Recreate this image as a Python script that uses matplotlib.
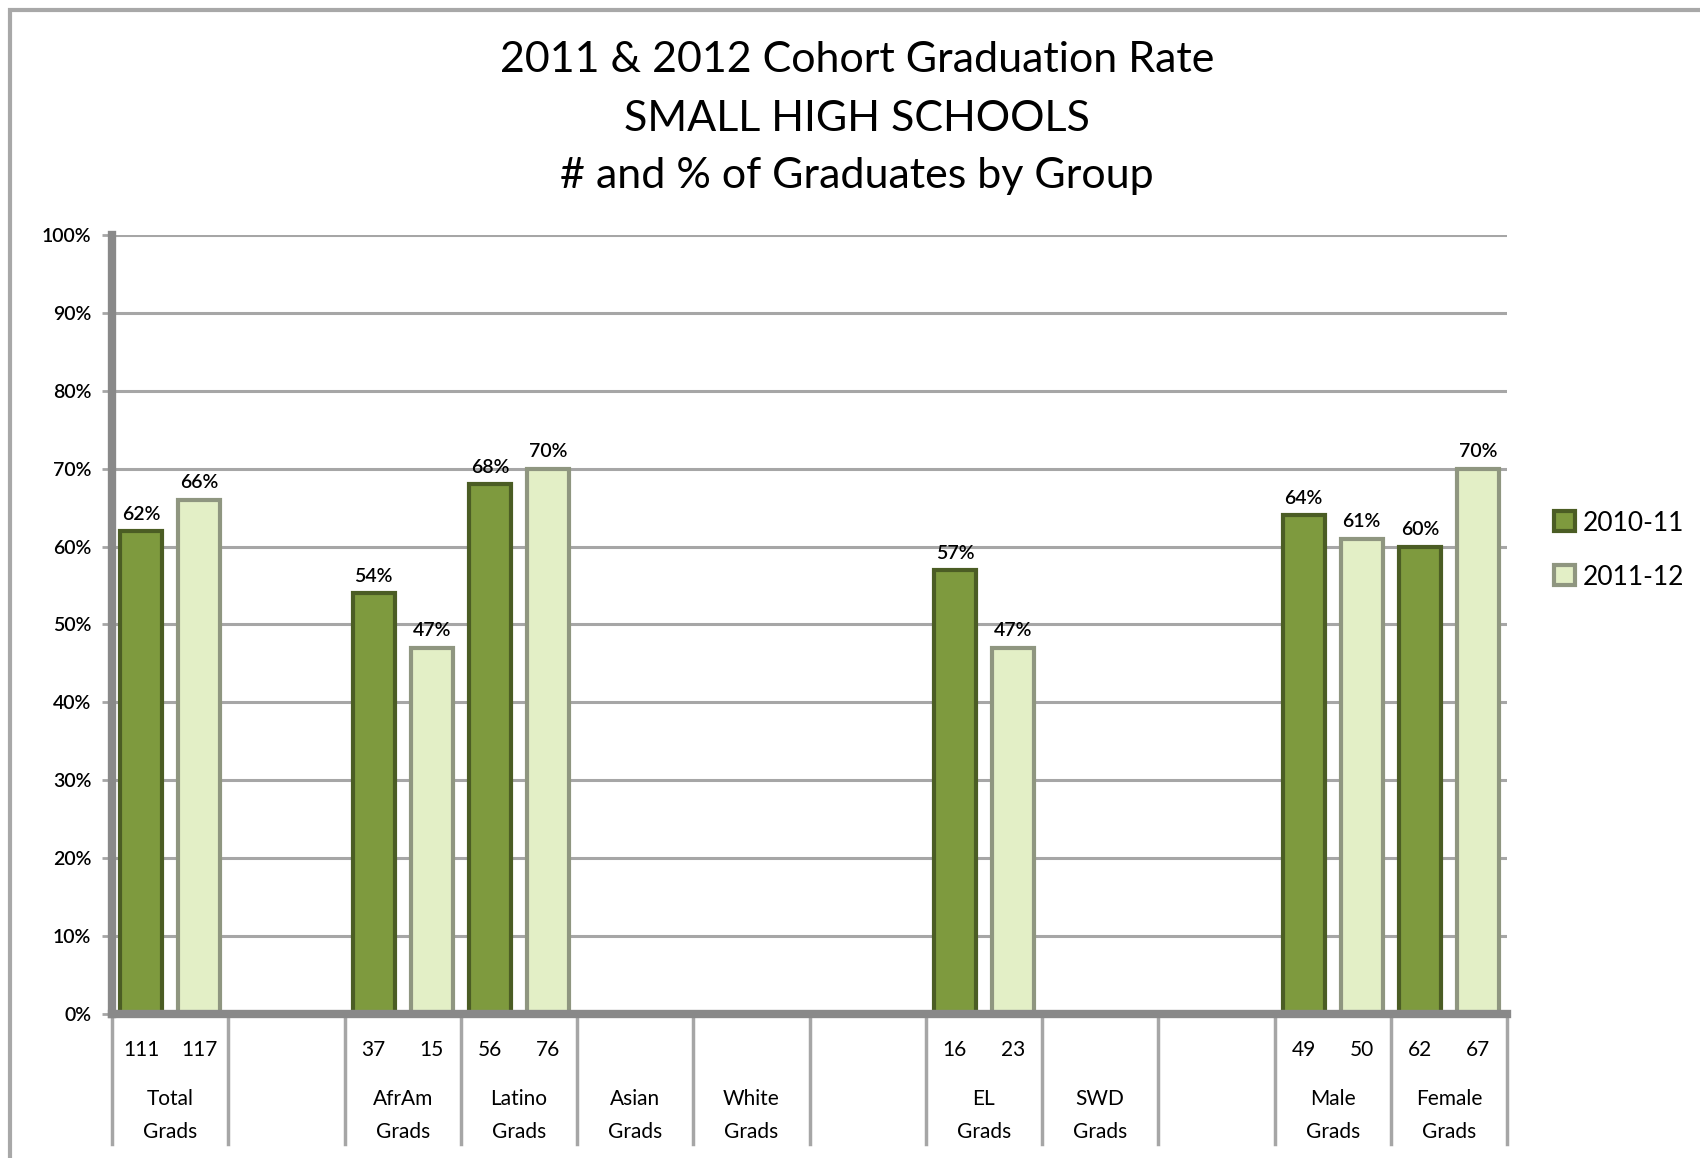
import matplotlib
matplotlib.use("Agg")
import matplotlib.pyplot as plt
from matplotlib.patches import Rectangle
import matplotlib.transforms as mtransforms

# Data
groups_top = ["Total", "", "AfrAm", "Latino", "Asian", "White", "", "EL", "SWD", "", "Male", "Female"]
groups_bottom = ["Grads", "", "Grads", "Grads", "Grads", "Grads", "", "Grads", "Grads", "", "Grads", "Grads"]
pct_2011 = [62, None, 54, 68, None, None, None, 57, None, None, 64, 60]
pct_2012 = [66, None, 47, 70, None, None, None, 47, None, None, 61, 70]
num_2011 = [111, None, 37, 56, None, None, None, 16, None, None, 49, 62]
num_2012 = [117, None, 15, 76, None, None, None, 23, None, None, 50, 67]
series_names = ["2010-11", "2011-12"]
title_lines = ["2011 & 2012 Cohort Graduation Rate", "SMALL HIGH SCHOOLS", "# and % of Graduates by Group"]

plt.rcParams['font.family'] = ['Lato', 'DejaVu Sans']

fig = plt.figure(figsize=(17, 11.58), dpi=100)
ax = fig.add_axes([0.0659, 0.1244, 0.8206, 0.6727])

# outer frame
fig.patches.append(Rectangle((0.006, -0.05), 1.2, 1.041, transform=fig.transFigure,
                             fill=False, edgecolor="#a8a8a8", linewidth=3))

dark_face, dark_edge = "#7e9a3e", "#4b5d24"
light_face, light_edge = "#e3efc6", "#8f9680"
width = 0.36
off = 0.25

h1 = h2 = None
for i in range(len(groups_top)):
    if pct_2011[i] is not None:
        h1 = ax.bar(i - off, pct_2011[i], width, color=dark_face, edgecolor=dark_edge,
                    linewidth=3, zorder=3)
        ax.annotate(f"{pct_2011[i]}%", (i - off, pct_2011[i]), xytext=(0, 6),
                    textcoords="offset points", ha="center", va="bottom",
                    fontsize=14, fontweight="semibold")
    if pct_2012[i] is not None:
        h2 = ax.bar(i + off, pct_2012[i], width, color=light_face, edgecolor=light_edge,
                    linewidth=3, zorder=3)
        ax.annotate(f"{pct_2012[i]}%", (i + off, pct_2012[i]), xytext=(0, 6),
                    textcoords="offset points", ha="center", va="bottom",
                    fontsize=14, fontweight="semibold")

ax.set_xlim(-0.5, len(groups_top) - 0.5)
ax.set_ylim(0, 100)
ax.set_yticks(range(0, 101, 10))
ax.set_yticklabels([f"{v}%" for v in range(0, 101, 10)], fontsize=14, fontweight="semibold")
ax.set_xticks([])
ax.yaxis.grid(True, color="#a6a6a6", linewidth=2.2, zorder=0)
ax.set_axisbelow(True)
ax.tick_params(axis="y", length=7, width=2, color="#a6a6a6", pad=8)

for s in ["top", "right"]:
    ax.spines[s].set_visible(False)
for s in ["left", "bottom"]:
    ax.spines[s].set_color("#898989")
    ax.spines[s].set_linewidth(6)
    ax.spines[s].set_zorder(4)

# category table below the axis
trans = mtransforms.blended_transform_factory(ax.transData, ax.transAxes)
for b in range(len(groups_top) + 1):
    ax.plot([b - 0.5, b - 0.5], [0, -0.167], transform=trans, color="#a6a6a6",
            linewidth=2.5, clip_on=False)
for i in range(len(groups_top)):
    if num_2011[i] is not None:
        ax.text(i - off, -0.046, str(num_2011[i]), transform=trans, ha="center", va="center", fontsize=15)
        ax.text(i + off, -0.046, str(num_2012[i]), transform=trans, ha="center", va="center", fontsize=15)
    ax.text(i, -0.109, groups_top[i], transform=trans, ha="center", va="center", fontsize=15)
    ax.text(i, -0.151, groups_bottom[i], transform=trans, ha="center", va="center", fontsize=15)

# title
for line, y in zip(title_lines, [0.948, 0.897, 0.848]):
    fig.text(0.504, y, line, ha="center", va="center", fontsize=31)

fig.legend([h1, h2], series_names, loc="center left", bbox_to_anchor=(0.9, 0.525),
           frameon=False, fontsize=19, handlelength=0.8, handleheight=0.8,
           handletextpad=0.3, labelspacing=1.1)

fig.savefig("out.png", dpi=100)
